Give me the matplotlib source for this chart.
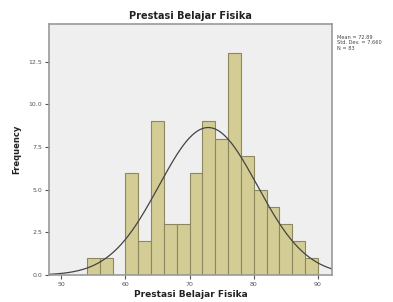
import numpy as np
import matplotlib
matplotlib.use('Agg')
import matplotlib.pyplot as plt

# Histogram data (bin width 2)
bin_edges = [54, 56, 58, 60, 62, 64, 66, 68, 70, 72, 74, 76, 78, 80, 82, 84, 86, 88, 90]
counts = [1, 1, 0, 6, 2, 9, 3, 3, 6, 9, 8, 13, 7, 5, 4, 3, 2, 1]
mean = 72.89
std = 7.66
n = 83

fig = plt.figure(figsize=(3.93, 3.02), dpi=100)
ax = fig.add_axes([0.125, 0.089, 0.72, 0.831])
ax.set_facecolor('#efefef')

left = np.array(bin_edges[:-1])
widths = np.diff(bin_edges)
ax.bar(left, counts, width=widths, align='edge', color='#d3cd95',
       edgecolor='#8c875e', linewidth=0.8)

# Normal curve scaled to counts
xs = np.linspace(48.1, 92.2, 300)
ys = n * 2 / (std * np.sqrt(2 * np.pi)) * np.exp(-0.5 * ((xs - mean) / std) ** 2)
ax.plot(xs, ys, color='#444444', linewidth=0.9)

ax.set_xlim(48.1, 92.2)
ax.set_ylim(0, 14.7)
ax.set_xticks([50, 60, 70, 80, 90])
ax.set_yticks([0, 2.5, 5, 7.5, 10, 12.5])
ax.set_yticklabels(['0.0', '2.5', '5.0', '7.5', '10.0', '12.5'])
ax.tick_params(labelsize=4.5, colors='#555555', length=3, width=0.8, pad=2)
for s in ax.spines.values():
    s.set_color('#999999')
    s.set_linewidth(1.2)

ax.set_title('Prestasi Belajar Fisika', fontsize=7, fontweight='bold', color='#222222', pad=4)
ax.set_xlabel('Prestasi Belajar Fisika', fontsize=6.5, fontweight='bold', color='#222222', labelpad=2)
ax.set_ylabel('Frequency', fontsize=6, fontweight='bold', color='#222222', labelpad=5)

fig.text(0.857, 0.885, 'Mean = %.2f\nStd. Dev. = %.3f\nN = %d' % (mean, std, n),
         fontsize=3.6, color='#444444', va='top', linespacing=1.1)

fig.savefig('out.png', dpi=100)
